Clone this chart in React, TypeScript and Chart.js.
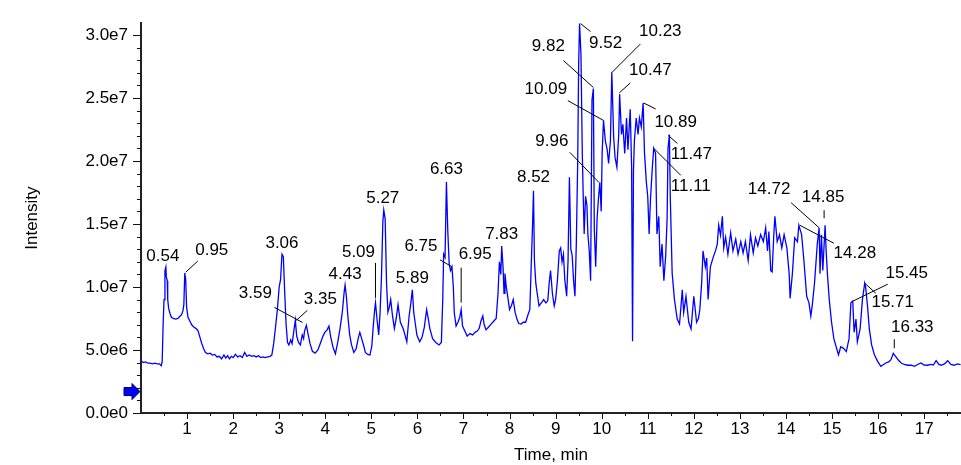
import React, { useEffect, useRef } from 'react';
import { Chart, registerables } from 'chart.js';

Chart.register(...registerables);

// Retention time (min)
const times = [
  0.0, 0.05, 0.1, 0.15, 0.2, 0.25, 0.3, 0.35, 0.4, 0.44, 0.46, 0.48, 0.5, 0.52, 0.54, 0.55, 0.57, 0.58, 0.6, 0.63,
  0.66, 0.7, 0.75, 0.8, 0.85, 0.88, 0.91, 0.93, 0.95, 0.97, 0.99, 1.02, 1.06, 1.1, 1.15, 1.2, 1.24, 1.28, 1.32, 1.36,
  1.4, 1.45, 1.5, 1.55, 1.6, 1.65, 1.7, 1.75, 1.8, 1.84, 1.88, 1.92, 1.96, 2.0, 2.05, 2.1, 2.15, 2.2, 2.25, 2.3,
  2.35, 2.4, 2.45, 2.5, 2.55, 2.6, 2.65, 2.7, 2.75, 2.8, 2.84, 2.88, 2.92, 2.96, 3.0, 3.03, 3.06, 3.09, 3.12, 3.15,
  3.18, 3.21, 3.25, 3.28, 3.31, 3.35, 3.38, 3.42, 3.46, 3.5, 3.53, 3.55, 3.59, 3.63, 3.67, 3.72, 3.78, 3.84, 3.9, 3.95,
  3.99, 4.04, 4.08, 4.12, 4.17, 4.22, 4.27, 4.32, 4.37, 4.41, 4.43, 4.46, 4.49, 4.53, 4.57, 4.62, 4.67, 4.72, 4.75, 4.79,
  4.83, 4.87, 4.92, 4.97, 5.01, 5.04, 5.07, 5.09, 5.13, 5.16, 5.19, 5.22, 5.25, 5.27, 5.3, 5.33, 5.36, 5.39, 5.42, 5.46,
  5.5, 5.54, 5.58, 5.63, 5.69, 5.73, 5.77, 5.82, 5.86, 5.89, 5.92, 5.95, 5.99, 6.05, 6.1, 6.15, 6.2, 6.23, 6.27, 6.33,
  6.4, 6.47, 6.52, 6.55, 6.57, 6.6, 6.63, 6.66, 6.69, 6.72, 6.75, 6.78, 6.8, 6.84, 6.88, 6.92, 6.95, 6.98, 7.03, 7.08,
  7.14, 7.2, 7.25, 7.3, 7.34, 7.38, 7.42, 7.45, 7.49, 7.54, 7.6, 7.66, 7.71, 7.75, 7.78, 7.81, 7.83, 7.86, 7.88, 7.9,
  7.93, 7.96, 8.0, 8.04, 8.08, 8.12, 8.16, 8.2, 8.25, 8.3, 8.35, 8.4, 8.44, 8.47, 8.5, 8.52, 8.54, 8.57, 8.6, 8.64,
  8.69, 8.74, 8.79, 8.83, 8.86, 8.89, 8.93, 8.97, 9.0, 9.04, 9.08, 9.11, 9.14, 9.17, 9.2, 9.24, 9.27, 9.3, 9.33, 9.36,
  9.39, 9.42, 9.45, 9.48, 9.5, 9.52, 9.55, 9.58, 9.6, 9.62, 9.65, 9.68, 9.7, 9.73, 9.76, 9.79, 9.82, 9.84, 9.87, 9.9,
  9.93, 9.96, 9.99, 10.01, 10.04, 10.08, 10.12, 10.15, 10.19, 10.22, 10.26, 10.29, 10.33, 10.37, 10.39, 10.43, 10.46, 10.5, 10.54, 10.57,
  10.62, 10.65, 10.67, 10.69, 10.71, 10.75, 10.79, 10.82, 10.86, 10.9, 10.93, 10.97, 11.0, 11.03, 11.06, 11.1, 11.13, 11.17, 11.2, 11.24,
  11.27, 11.31, 11.35, 11.39, 11.42, 11.44, 11.47, 11.49, 11.53, 11.58, 11.64, 11.69, 11.75, 11.78, 11.83, 11.89, 11.94, 12.0, 12.06, 12.1,
  12.13, 12.17, 12.2, 12.25, 12.28, 12.31, 12.36, 12.42, 12.47, 12.51, 12.54, 12.58, 12.62, 12.65, 12.69, 12.74, 12.8, 12.85, 12.91, 12.96,
  13.02, 13.07, 13.12, 13.18, 13.23, 13.29, 13.34, 13.39, 13.45, 13.51, 13.56, 13.6, 13.63, 13.67, 13.7, 13.74, 13.76, 13.81, 13.86, 13.91,
  13.96, 14.02, 14.07, 14.09, 14.14, 14.19, 14.25, 14.28, 14.34, 14.39, 14.45, 14.5, 14.54, 14.57, 14.62, 14.68, 14.72, 14.74, 14.77, 14.8,
  14.85, 14.87, 14.9, 14.94, 14.99, 15.04, 15.1, 15.14, 15.19, 15.25, 15.31, 15.37, 15.41, 15.45, 15.48, 15.52, 15.55, 15.61, 15.66, 15.71,
  15.73, 15.77, 15.81, 15.86, 15.92, 15.99, 16.06, 16.12, 16.17, 16.23, 16.28, 16.33, 16.38, 16.44, 16.5, 16.57, 16.64, 16.72, 16.79, 16.86,
  16.93, 17.0, 17.07, 17.15, 17.2, 17.26, 17.32, 17.37, 17.44, 17.51, 17.58, 17.65, 17.72, 17.79,
];

// Intensity (x 1e6 counts)
const intensity = [
  4.15, 4.0, 4.05, 3.95, 3.95, 3.9, 3.95, 3.9, 3.9, 3.75, 4.1, 7.0, 9.0, 11.3, 11.58, 10.8, 10.5, 9.0, 8.3, 7.9,
  7.6, 7.5, 7.45, 7.5, 7.7, 7.8, 8.1, 8.6, 11.1, 10.6, 8.4, 7.6, 7.3, 7.0, 6.8, 6.7, 6.5, 6.0, 5.5, 5.1,
  4.8, 4.7, 4.75, 4.6, 4.65, 4.45, 4.5, 4.3, 4.6, 4.35, 4.55, 4.3, 4.5, 4.4, 4.65, 4.45, 4.55, 4.4, 4.8, 4.5,
  4.6, 4.5, 4.55, 4.45, 4.55, 4.4, 4.45, 4.4, 4.45, 4.5, 4.6, 5.5, 6.8, 8.2, 10.0, 10.6, 12.6, 12.4, 9.5, 7.0,
  5.6, 5.4, 5.8, 5.5, 6.3, 7.35, 6.1, 5.6, 5.4, 6.2, 5.9, 6.5, 6.95, 6.2, 5.5, 4.9, 4.75, 5.0, 5.6, 6.1,
  6.4, 6.6, 6.9, 6.0, 5.2, 4.7, 5.6, 6.7, 8.0, 9.6, 10.15, 9.2, 7.7, 6.2, 5.4, 4.8, 5.1, 6.0, 6.4, 5.9,
  5.4, 4.8, 4.65, 4.6, 5.3, 6.8, 8.1, 8.74, 7.2, 6.2, 8.0, 10.8, 15.2, 16.1, 15.4, 10.3, 8.0, 8.4, 9.0, 7.7,
  6.7, 7.5, 8.6, 7.2, 6.7, 6.2, 5.65, 7.7, 8.8, 9.77, 8.0, 7.2, 6.16, 5.65, 6.0, 6.8, 8.2, 7.6, 6.7, 5.9,
  5.6, 5.4, 5.6, 9.0, 12.6, 12.35, 18.33, 14.4, 11.83, 11.3, 11.6, 10.0, 7.97, 6.9, 7.2, 7.6, 8.2, 6.9, 6.5, 6.1,
  6.3, 6.2, 6.4, 6.5, 6.7, 7.3, 7.7, 7.0, 6.6, 6.8, 7.05, 7.3, 7.5, 9.5, 12.0, 11.0, 13.25, 11.5, 9.5, 11.06,
  10.0, 9.26, 8.2, 8.5, 9.0, 8.0, 7.45, 7.1, 7.06, 7.2, 7.2, 7.8, 8.2, 11.6, 15.0, 17.63, 12.1, 10.3, 9.5, 8.5,
  8.74, 9.0, 8.74, 8.9, 10.3, 11.3, 9.5, 8.5, 9.0, 10.55, 12.86, 13.1, 12.0, 12.6, 10.55, 9.26, 12.1, 18.7, 13.0, 12.5,
  10.5, 9.26, 13.5, 20.0, 27.7, 30.9, 28.5, 20.5, 17.1, 14.2, 17.2, 16.5, 14.2, 12.9, 10.5, 24.85, 25.75, 14.6, 11.6, 15.4,
  17.0, 18.3, 16.0, 20.6, 23.2, 21.6, 20.9, 19.8, 21.6, 27.05, 21.9, 20.3, 19.5, 22.1, 25.3, 22.1, 22.9, 20.6, 23.4, 20.9,
  24.1, 19.5, 5.7, 19.2, 21.6, 23.4, 22.1, 23.4, 22.7, 24.6, 20.6, 18.3, 17.2, 14.2, 17.0, 19.5, 21.0, 20.6, 14.2, 15.6,
  11.6, 13.4, 10.5, 12.5, 15.4, 21.0, 22.1, 17.0, 11.1, 9.0, 7.45, 7.06, 9.77, 7.97, 9.26, 7.2, 6.67, 9.26, 7.2, 7.5,
  8.2, 10.3, 12.86, 11.6, 12.3, 9.0, 11.6, 12.35, 12.86, 13.4, 14.9, 14.1, 15.6, 13.1, 13.95, 12.6, 14.3, 12.86, 13.8, 12.6,
  13.6, 12.7, 13.6, 12.1, 14.15, 12.7, 13.9, 13.25, 14.15, 13.6, 14.7, 12.86, 14.4, 11.3, 11.2, 14.4, 15.6, 13.6, 14.15, 13.1,
  14.15, 13.1, 11.06, 9.1, 11.06, 13.9, 13.6, 14.9, 14.15, 12.1, 9.26, 8.74, 7.7, 8.5, 10.3, 13.4, 14.7, 11.06, 14.15, 11.3,
  14.9, 13.1, 11.06, 9.0, 7.2, 5.9, 5.13, 4.62, 5.26, 5.13, 4.87, 5.9, 8.74, 8.87, 6.4, 7.45, 5.65, 6.67, 9.0, 10.3,
  10.0, 8.5, 6.67, 5.4, 4.62, 4.1, 3.7, 3.85, 3.97, 4.05, 4.23, 4.74, 4.49, 4.2, 3.97, 3.85, 3.79, 3.8, 3.71, 3.85,
  3.97, 3.8, 3.79, 3.85, 3.8, 4.15, 3.85, 3.79, 3.9, 4.15, 3.85, 3.79, 3.9, 3.84,
];

// Labelled peaks: retention time and apex intensity (x 1e6)
const peakTimes = [
  0.54, 0.95, 3.06, 3.59, 3.35, 4.43, 5.09, 5.27, 5.89, 6.63, 6.75, 6.95, 7.83, 8.52, 9.52,
  9.82, 10.23, 10.47, 10.09, 10.89, 9.96, 11.47, 11.11, 14.72, 14.85, 14.28, 15.45, 15.71, 16.33,
];
const peakHeights = [
  11.58, 11.1, 12.6, 6.95, 7.35, 10.15, 8.74, 16.1, 9.77, 18.33, 11.6, 8.2, 13.25, 17.63, 30.9,
  25.75, 27.05, 25.4, 23.2, 24.6, 18.3, 22.1, 21.0, 14.7, 14.9, 14.9, 8.87, 10.3, 4.74,
];

// Axis ranges and ticks
const yMax = 30.93e6;
const xMax = 17.8;
const yTickValues = Array.from({ length: 31 }, (_, i) => i * 1e6); // minor every 1e6, labelled every 5e6
const xTickValues = Array.from({ length: 35 }, (_, i) => (i + 1) * 0.5); // minor every 0.5 min, labelled every 1 min
const markerLevel = 1.7e6;

// Label placement (pixel offsets from the apex) and leader lines
type Layout = { dx: number; dy: number; line: number[] | null };
const labelLayout: Layout[] = [
  { dx: -3, dy: -11, line: null },
  { dx: 27, dy: -23, line: [1, -1, 13, -12] },
  { dx: 0, dy: -11, line: null },
  { dx: -51, dy: -32, line: [-32, -18, -4, -3] },
  { dx: 25, dy: -21, line: [1, 0, 12, -10] },
  { dx: 0, dy: -11, line: null },
  { dx: -17, dy: -51, line: [0, -40, 0, -5] },
  { dx: -1, dy: -12, line: null },
  { dx: 0, dy: -12, line: null },
  { dx: 0, dy: -13, line: null },
  { dx: -31, dy: -20, line: [-12, -7, 0, 0] },
  { dx: 14, dy: -55, line: [0, -42, 0, -7] },
  { dx: 0, dy: -12, line: null },
  { dx: 0, dy: -14, line: null },
  { dx: 26, dy: 20, line: [1, 0, 11, 8] },
  { dx: -45, dy: -42, line: [-30, -28, 0, -1] },
  { dx: 48, dy: -41, line: [28, -28, 0, 0] },
  { dx: 27, dy: -23, line: [7, -10, -4, 0] },
  { dx: -60, dy: -31, line: [-38, -20, -2, 0] },
  { dx: 33, dy: 19, line: [1, 0, 13, 6] },
  { dx: -48, dy: -41, line: [-30, -30, -1, 0] },
  { dx: 22, dy: 20, line: [-1, 1, 8, 9] },
  { dx: 38, dy: 38, line: [1, 0, 28, 27] },
  { dx: -50, dy: -38, line: [-28, -25, 0, 0] },
  { dx: -2, dy: -28, line: [-1, -15, -1, -7] },
  { dx: 56, dy: 28, line: [1, 0, 35, 18] },
  { dx: 54, dy: -28, line: [0, 0, 35, -17] },
  { dx: 28, dy: 19, line: [0, 0, 11, 10] },
  { dx: 19, dy: -26, line: [1, -14, 1, -5] },
];

const FONT = '17px "Liberation Sans", Arial, sans-serif';

const isMult = (v: number, step: number) => Math.abs(v / step - Math.round(v / step)) < 1e-6;

const decorPlugin = {
  id: 'decor',
  afterDraw(chart: any) {
    const { ctx, chartArea } = chart;
    const x = chart.scales.x;
    const y = chart.scales.y;
    ctx.save();
    ctx.strokeStyle = '#111';
    ctx.lineWidth = 1;
    // y tick marks
    for (const t of y.ticks) {
      const v = t.value;
      if (v <= 0) continue;
      const py = Math.round(y.getPixelForValue(v)) + 0.5;
      const len = isMult(v, 5e6) ? 8 : 4;
      ctx.beginPath();
      ctx.moveTo(chartArea.left - len, py);
      ctx.lineTo(chartArea.left, py);
      ctx.stroke();
    }
    {
      const py = Math.round(y.getPixelForValue(0)) + 0.5;
      ctx.beginPath();
      ctx.moveTo(chartArea.left - 8, py);
      ctx.lineTo(chartArea.left, py);
      ctx.stroke();
    }
    // x tick marks
    for (const t of x.ticks) {
      const v = t.value;
      const px = Math.round(x.getPixelForValue(v)) + 0.5;
      const len = isMult(v, 1) ? 6 : 3;
      ctx.beginPath();
      ctx.moveTo(px, chartArea.bottom);
      ctx.lineTo(px, chartArea.bottom + len);
      ctx.stroke();
    }
    // blue marker arrow on the y axis
    const my = y.getPixelForValue(markerLevel);
    const ax = chartArea.left;
    ctx.beginPath();
    ctx.moveTo(ax - 17, my - 4);
    ctx.lineTo(ax - 9, my - 4);
    ctx.lineTo(ax - 9, my - 8);
    ctx.lineTo(ax - 1, my);
    ctx.lineTo(ax - 9, my + 8);
    ctx.lineTo(ax - 9, my + 4);
    ctx.lineTo(ax - 17, my + 4);
    ctx.closePath();
    ctx.fillStyle = '#0000ff';
    ctx.fill();
    ctx.strokeStyle = '#000040';
    ctx.stroke();

    // axis titles
    ctx.fillStyle = '#000';
    ctx.font = FONT;
    ctx.textAlign = 'center';
    ctx.textBaseline = 'middle';
    ctx.fillText('Time, min', (chartArea.left + chartArea.right) / 2, 455);
    ctx.save();
    ctx.translate(32, (chartArea.top + chartArea.bottom) / 2);
    ctx.rotate(-Math.PI / 2);
    ctx.fillText('Intensity', 0, 0);
    ctx.restore();

    // peak labels
    ctx.strokeStyle = '#000';
    ctx.lineWidth = 1;
    peakTimes.forEach((pt, i) => {
      const px = x.getPixelForValue(pt);
      const py = y.getPixelForValue(peakHeights[i] * 1e6);
      const lay = labelLayout[i];
      if (lay.line) {
        const [x1, y1, x2, y2] = lay.line;
        ctx.beginPath();
        ctx.moveTo(px + x1, py + y1);
        ctx.lineTo(px + x2, py + y2);
        ctx.stroke();
      }
      ctx.fillText(pt.toFixed(2), px + lay.dx, py + lay.dy);
    });
    ctx.restore();
  },
};

export default function App() {
  const ref = useRef<HTMLCanvasElement | null>(null);
  useEffect(() => {
    if (!ref.current) return;
    Chart.defaults.font.family = '"Liberation Sans", Arial, sans-serif';
    Chart.defaults.font.size = 17;
    Chart.defaults.color = '#000';
    const points = times.map((t, i) => ({ x: t, y: intensity[i] * 1e6 }));
    const chart = new Chart(ref.current, {
      type: 'line',
      data: {
        datasets: [
          {
            data: points,
            borderColor: '#0000ff',
            borderWidth: 1.3,
            pointRadius: 0,
            tension: 0,
            fill: false,
          },
        ],
      },
      options: {
        animation: false,
        responsive: false,
        devicePixelRatio: 1,
        layout: { padding: { top: 13, right: 0, left: 0, bottom: 0 } },
        plugins: { legend: { display: false }, tooltip: { enabled: false } },
        scales: {
          x: {
            type: 'linear',
            min: 0,
            max: xMax,
            grid: { display: false, drawTicks: false },
            border: { display: true, color: '#222', width: 2 },
            afterBuildTicks: (s: any) => {
              s.ticks = xTickValues.map((v) => ({ value: v }));
            },
            ticks: {
              autoSkip: false,
              maxRotation: 0,
              padding: 6,
              color: '#000',
              callback: (v: any) => {
                const n = Number(v);
                return isMult(n, 1) ? String(Math.round(n)) : '';
              },
            },
            afterFit: (s: any) => {
              s.height = 52;
            },
          },
          y: {
            type: 'linear',
            min: 0,
            max: yMax,
            grid: { display: false, drawTicks: false },
            border: { display: true, color: '#222', width: 2 },
            afterBuildTicks: (s: any) => {
              s.ticks = yTickValues.map((v) => ({ value: v }));
            },
            ticks: {
              autoSkip: false,
              padding: 13,
              color: '#000',
              callback: (v: any) => {
                const n = Number(v);
                return isMult(n, 5e6) ? n.toExponential(1).replace('e+', 'e') : '';
              },
            },
            afterFit: (s: any) => {
              s.width = 141;
            },
          },
        },
      },
      plugins: [decorPlugin],
    });
    return () => chart.destroy();
  }, []);
  return (
    <div style={{ position: 'absolute', left: 0, top: 0, width: 961, height: 465, background: '#fff' }}>
      <canvas ref={ref} width={961} height={465} style={{ width: 961, height: 465, display: 'block' }} />
    </div>
  );
}
